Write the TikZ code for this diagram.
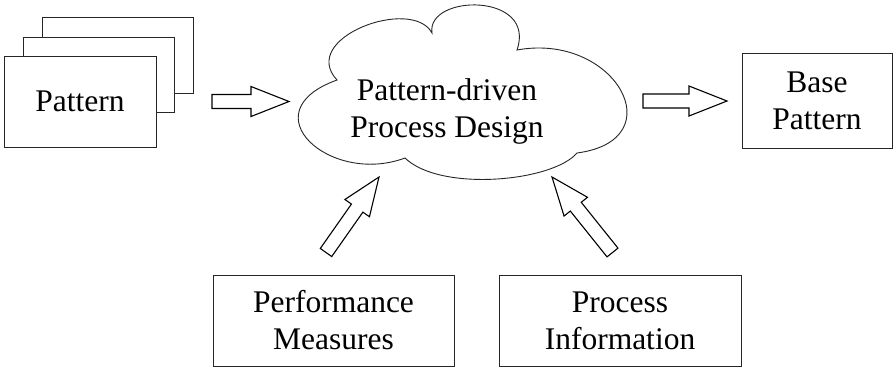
\documentclass[tikz,border=0pt]{standalone}
\usepackage{fontspec}
\setmainfont{Liberation Serif}
\usetikzlibrary{calc}
\newcommand\blockarr[2]{%
  \coordinate (tmpH) at ($(#2)!38pt!(#1)$);
  \draw[barrow] ($(#1)!7pt!90:(#2)$) -- ($(tmpH)!7pt!90:(#2)$) -- ($(tmpH)!15pt!90:(#2)$) -- (#2)
    -- ($(tmpH)!15pt!-90:(#2)$) -- ($(tmpH)!7pt!-90:(#2)$) -- ($(#1)!7pt!-90:(#2)$) -- cycle;}
\begin{document}
\begin{tikzpicture}[x=1pt,y=-1pt,
  txt/.style={font=\fontsize{31.5}{37}\selectfont, align=center},
  box/.style={txt, draw=black!85, line width=0.9pt, fill=white, inner sep=0pt},
  backbox/.style={draw=black!85, line width=0.9pt, fill=white},
  barrow/.style={draw=black, line width=1.1pt, fill=white, line join=miter},
  cloudline/.style={draw=black!85, line width=0.9pt, fill=white}]
\useasboundingbox (0,0) rectangle (893,368);
% stacked pattern cards
\draw[backbox] (42,17) rectangle (193,93);
\draw[backbox] (23,37) rectangle (174,112);
\node[box, minimum width=152pt, minimum height=91pt] (pat) at (80,101.5) {Pattern};
% cloud
\draw[cloudline] (337,80) .. controls (298,38) and (412,-4) .. (432,33)
  .. controls (426,-6) and (537,-8) .. (517,50)
  .. controls (615,32) and (675,140) .. (577,153)
  .. controls (552,182) and (440,192) .. (405,158)
  .. controls (330,186) and (248,112) .. (337,80) -- cycle;
\node[txt, inner sep=0pt] (cloud) at (447,111) {Pattern-driven\\Process Design};
% boxes
\node[box, minimum width=150pt, minimum height=95pt] (base) at (817,100.5) {Base\\Pattern};
\node[box, minimum width=241pt, minimum height=91pt] (perf) at (333.5,320.5) {Performance\\Measures};
\node[box, minimum width=242pt, minimum height=91pt] (proc) at (620,320.5) {Process\\Information};
% arrow endpoints
\coordinate (a1s) at (212,101.5);
\coordinate (a1e) at (289,101.5);
\coordinate (a2s) at (643,101);
\coordinate (a2e) at (727,101);
\coordinate (a3s) at (326,252.5);
\coordinate (a3e) at (379,177);
\coordinate (a4s) at (612.5,252.5);
\coordinate (a4e) at (552,177);
\blockarr{a1s}{a1e}
\blockarr{a2s}{a2e}
\blockarr{a3s}{a3e}
\blockarr{a4s}{a4e}
\end{tikzpicture}
\end{document}
